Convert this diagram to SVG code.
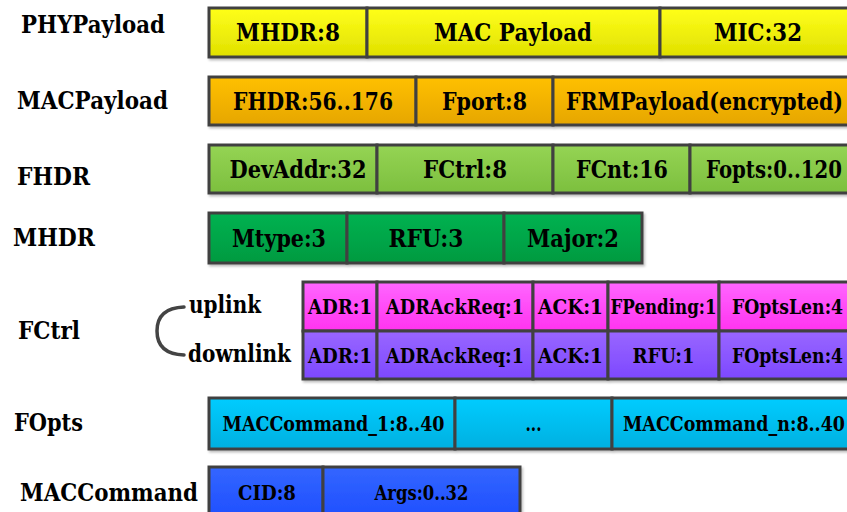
<svg xmlns="http://www.w3.org/2000/svg" width="847" height="512" viewBox="0 0 847 512">
<style>
text{font-family:'DejaVu Serif','Liberation Serif',serif;font-weight:700;fill:#000}
.lbl{font-size:23.5px}
.big{font-size:23.5px;text-anchor:middle}
.sm{font-size:19.5px;text-anchor:middle}
.cell{stroke:#404040;stroke-width:3}
</style>
<defs>
<filter id="sh" x="-5%" y="-20%" width="110%" height="150%"><feDropShadow dx="1.5" dy="2" stdDeviation="1" flood-color="#000" flood-opacity="0.25"/></filter>
<linearGradient id="gY" x1="0" y1="0" x2="0" y2="1"><stop offset="0" stop-color="#ffff1a"/><stop offset="1" stop-color="#e0e000"/></linearGradient>
<linearGradient id="gO" x1="0" y1="0" x2="0" y2="1"><stop offset="0" stop-color="#ffc000"/><stop offset="1" stop-color="#e6a600"/></linearGradient>
<linearGradient id="gG" x1="0" y1="0" x2="0" y2="1"><stop offset="0" stop-color="#95d454"/><stop offset="1" stop-color="#7cbf3e"/></linearGradient>
<linearGradient id="gD" x1="0" y1="0" x2="0" y2="1"><stop offset="0" stop-color="#00b251"/><stop offset="1" stop-color="#009a40"/></linearGradient>
<linearGradient id="gM" x1="0" y1="0" x2="0" y2="1"><stop offset="0" stop-color="#ff66ff"/><stop offset="1" stop-color="#ff33f0"/></linearGradient>
<linearGradient id="gP" x1="0" y1="0" x2="0" y2="1"><stop offset="0" stop-color="#9966ff"/><stop offset="1" stop-color="#7d48ff"/></linearGradient>
<linearGradient id="gC" x1="0" y1="0" x2="0" y2="1"><stop offset="0" stop-color="#00ccff"/><stop offset="1" stop-color="#00b0e0"/></linearGradient>
<linearGradient id="gB" x1="0" y1="0" x2="0" y2="1"><stop offset="0" stop-color="#3366ff"/><stop offset="1" stop-color="#1f4eff"/></linearGradient>
</defs>
<rect width="847" height="512" fill="#fff"/>

<g id="phypayload">
<text class="lbl" x="21" y="33" textLength="144" lengthAdjust="spacingAndGlyphs">PHYPayload</text>
<g filter="url(#sh)" fill="url(#gY)" class="cell">
<rect x="209" y="8" width="158" height="49"/>
<rect x="367" y="8" width="293" height="49"/>
<rect x="660" y="8" width="200" height="49"/>
</g>
<text class="big" x="288" y="41" textLength="104" lengthAdjust="spacingAndGlyphs">MHDR:8</text>
<text class="big" x="513" y="41" textLength="158" lengthAdjust="spacingAndGlyphs">MAC Payload</text>
<text class="big" x="758" y="41" textLength="88" lengthAdjust="spacingAndGlyphs">MIC:32</text>
</g>

<g id="macpayload">
<text class="lbl" x="17" y="109" textLength="151" lengthAdjust="spacingAndGlyphs">MACPayload</text>
<g filter="url(#sh)" fill="url(#gO)" class="cell">
<rect x="209" y="77" width="207" height="48"/>
<rect x="416" y="77" width="137" height="48"/>
<rect x="553" y="77" width="307" height="48"/>
</g>
<text class="big" x="313" y="110" textLength="160" lengthAdjust="spacingAndGlyphs">FHDR:56..176</text>
<text class="big" x="484.5" y="110" textLength="85" lengthAdjust="spacingAndGlyphs">Fport:8</text>
<text class="big" x="704.5" y="110" textLength="277" lengthAdjust="spacingAndGlyphs">FRMPayload(encrypted)</text>
</g>

<g id="fhdr">
<text class="lbl" x="17" y="185" textLength="73" lengthAdjust="spacingAndGlyphs">FHDR</text>
<g filter="url(#sh)" fill="url(#gG)" class="cell">
<rect x="209" y="145" width="168" height="48"/>
<rect x="377" y="145" width="176" height="48"/>
<rect x="553" y="145" width="137" height="48"/>
<rect x="690" y="145" width="170" height="48"/>
</g>
<text class="big" x="298" y="178" textLength="137" lengthAdjust="spacingAndGlyphs">DevAddr:32</text>
<text class="big" x="465" y="178" textLength="84" lengthAdjust="spacingAndGlyphs">FCtrl:8</text>
<text class="big" x="622" y="178" textLength="92" lengthAdjust="spacingAndGlyphs">FCnt:16</text>
<text class="big" x="774" y="178" textLength="136" lengthAdjust="spacingAndGlyphs">Fopts:0..120</text>
</g>

<g id="mhdr">
<text class="lbl" x="13" y="246" textLength="82" lengthAdjust="spacingAndGlyphs">MHDR</text>
<g filter="url(#sh)" fill="url(#gD)" class="cell">
<rect x="209" y="213" width="138" height="50"/>
<rect x="347" y="213" width="157" height="50"/>
<rect x="504" y="213" width="138" height="50"/>
</g>
<text class="big" x="279" y="247" textLength="94" lengthAdjust="spacingAndGlyphs">Mtype:3</text>
<text class="big" x="426" y="247" textLength="75" lengthAdjust="spacingAndGlyphs">RFU:3</text>
<text class="big" x="573" y="247" textLength="92" lengthAdjust="spacingAndGlyphs">Major:2</text>
</g>

<g id="fctrl">
<text class="lbl" x="18" y="339" textLength="62" lengthAdjust="spacingAndGlyphs">FCtrl</text>
<text class="lbl" x="189" y="313" textLength="72" lengthAdjust="spacingAndGlyphs">uplink</text>
<text class="lbl" x="188" y="362" textLength="103" lengthAdjust="spacingAndGlyphs">downlink</text>
<g filter="url(#sh)" fill="url(#gM)" class="cell">
<rect x="303" y="282" width="74" height="49"/>
<rect x="377" y="282" width="156" height="49"/>
<rect x="533" y="282" width="75" height="49"/>
<rect x="608" y="282" width="111" height="49"/>
<rect x="719" y="282" width="141" height="49"/>
</g>
<g filter="url(#sh)" fill="url(#gP)" class="cell">
<rect x="303" y="331" width="74" height="48"/>
<rect x="377" y="331" width="156" height="48"/>
<rect x="533" y="331" width="75" height="48"/>
<rect x="608" y="331" width="111" height="48"/>
<rect x="719" y="331" width="141" height="48"/>
</g>
<text class="sm" x="340" y="314" textLength="64" lengthAdjust="spacingAndGlyphs">ADR:1</text>
<text class="sm" x="455" y="314" textLength="138" lengthAdjust="spacingAndGlyphs">ADRAckReq:1</text>
<text class="sm" x="570.5" y="314" textLength="65" lengthAdjust="spacingAndGlyphs">ACK:1</text>
<text class="sm" x="663.5" y="314" textLength="106" lengthAdjust="spacingAndGlyphs">FPending:1</text>
<text class="sm" x="787.5" y="314" textLength="111" lengthAdjust="spacingAndGlyphs">FOptsLen:4</text>
<text class="sm" x="340" y="363" textLength="64" lengthAdjust="spacingAndGlyphs">ADR:1</text>
<text class="sm" x="455" y="363" textLength="138" lengthAdjust="spacingAndGlyphs">ADRAckReq:1</text>
<text class="sm" x="570.5" y="363" textLength="65" lengthAdjust="spacingAndGlyphs">ACK:1</text>
<text class="sm" x="663.5" y="363" textLength="62" lengthAdjust="spacingAndGlyphs">RFU:1</text>
<text class="sm" x="787.5" y="363" textLength="111" lengthAdjust="spacingAndGlyphs">FOptsLen:4</text>
</g>

<g id="fopts">
<text class="lbl" x="14" y="431" textLength="69" lengthAdjust="spacingAndGlyphs">FOpts</text>
<g filter="url(#sh)" fill="url(#gC)" class="cell">
<rect x="209" y="398" width="246" height="51"/>
<rect x="455" y="398" width="157" height="51"/>
<rect x="612" y="398" width="248" height="51"/>
</g>
<text class="sm" x="333.5" y="431" textLength="222" lengthAdjust="spacingAndGlyphs">MACCommand_1:8..40</text>
<text class="sm" x="533.5" y="431" textLength="16" lengthAdjust="spacingAndGlyphs">...</text>
<text class="sm" x="734" y="431" textLength="222" lengthAdjust="spacingAndGlyphs">MACCommand_n:8..40</text>
</g>

<g id="maccommand">
<text class="lbl" x="20" y="501" textLength="178" lengthAdjust="spacingAndGlyphs">MACCommand</text>
<g filter="url(#sh)" fill="url(#gB)" class="cell">
<rect x="209" y="467" width="114" height="52"/>
<rect x="323" y="467" width="197" height="52"/>
</g>
<text class="sm" x="267" y="500" textLength="58" lengthAdjust="spacingAndGlyphs">CID:8</text>
<text class="sm" x="421.5" y="500" textLength="94" lengthAdjust="spacingAndGlyphs">Args:0..32</text>
</g>

<g id="connectors">
<path d="M184,307 Q157,308 157,331 Q157,354 184,355" fill="none" stroke="#444" stroke-width="3.5" stroke-linecap="round"/>
</g>
</svg>
